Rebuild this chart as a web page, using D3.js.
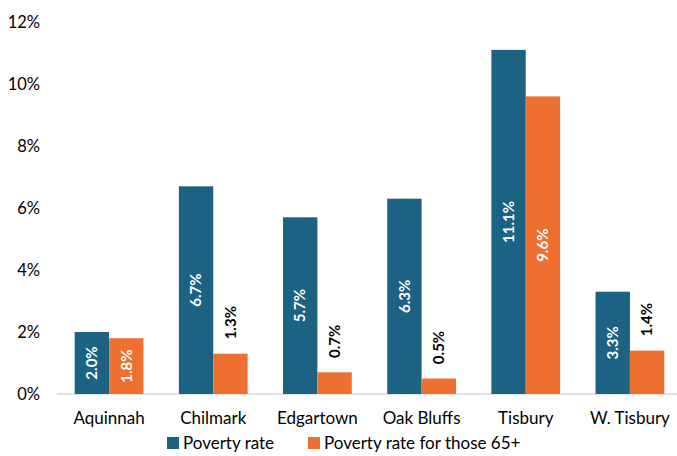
<!DOCTYPE html>
<html>
<head>
<meta charset="utf-8">
<script src="https://cdn.jsdelivr.net/npm/d3@7"></script>
<style>
  body { margin: 0; background: #fff; }
  svg { display: block; font-family: Lato, "Open Sans", sans-serif; }
</style>
</head>
<body>
<svg id="chart" width="677" height="456"></svg>
<script>
var towns = ["Aquinnah", "Chilmark", "Edgartown", "Oak Bluffs", "Tisbury", "W. Tisbury"];
var povertyRate = [2.0, 6.7, 5.7, 6.3, 11.1, 3.3];
var povertyRate65 = [1.8, 1.3, 0.7, 0.5, 9.6, 1.4];
var seriesNames = ["Poverty rate", "Poverty rate for those 65+"];
var yTicks = [0, 2, 4, 6, 8, 10, 12];

var colors = ["#1b6283", "#ed7031"];

var svg = d3.select("#chart");

var xScale = d3.scaleBand()
  .domain(towns)
  .range([57, 682])
  .paddingInner(0.34)
  .paddingOuter(0.17);

var xSub = d3.scaleBand()
  .domain([0, 1])
  .range([0, xScale.bandwidth()]);

var yScale = d3.scaleLinear()
  .domain([0, 12])
  .range([394, 22]);

// y axis labels only, no line
var yAxis = svg.append("g")
  .attr("transform", "translate(40,0)")
  .call(d3.axisLeft(yScale).tickValues(yTicks).tickSize(0).tickPadding(0)
    .tickFormat(function(d) { return d + "%"; }));
yAxis.select(".domain").remove();
yAxis.selectAll("text")
  .attr("font-family", "Lato, sans-serif")
  .attr("font-size", 16.5)
  .attr("fill", "#000");

// baseline
svg.append("line")
  .attr("x1", 57).attr("x2", 677)
  .attr("y1", yScale(0)).attr("y2", yScale(0))
  .attr("stroke", "#d9d9d9")
  .attr("stroke-width", 1.5);

var rows = towns.map(function(t, i) {
  return { town: t, vals: [povertyRate[i], povertyRate65[i]] };
});

var groups = svg.selectAll("g.town")
  .data(rows)
  .enter()
  .append("g")
  .attr("class", "town")
  .attr("transform", function(d) { return "translate(" + xScale(d.town) + ",0)"; });

groups.selectAll("rect")
  .data(function(d) { return d.vals; })
  .enter()
  .append("rect")
  .attr("x", function(d, i) { return xSub(i); })
  .attr("width", xSub.bandwidth())
  .attr("y", function(d) { return yScale(d); })
  .attr("height", function(d) { return yScale(0) - yScale(d); })
  .attr("fill", function(d, i) { return colors[i]; });

// value labels, rotated; inside the bar if it fits, otherwise above
groups.selectAll("text.val")
  .data(function(d) { return d.vals; })
  .enter()
  .append("text")
  .attr("class", "val")
  .attr("transform", function(d, i) {
    var cx = xSub(i) + xSub.bandwidth() / 2;
    var h = yScale(0) - yScale(d);
    var cy = h > 44 ? (yScale(d) + yScale(0)) / 2 : yScale(d) - 31;
    return "translate(" + cx + "," + cy + ") rotate(-90)";
  })
  .attr("text-anchor", "middle")
  .attr("dy", "0.35em")
  .attr("font-size", 15)
  .attr("font-weight", "bold")
  .attr("fill", function(d) { return (yScale(0) - yScale(d)) > 44 ? "#fff" : "#000"; })
  .text(function(d) { return d.toFixed(1) + "%"; });

// x axis labels
var xAxis = svg.append("g")
  .attr("transform", "translate(0," + yScale(0) + ")")
  .call(d3.axisBottom(xScale).tickSize(0).tickPadding(18));
xAxis.select(".domain").remove();
xAxis.selectAll("text")
  .attr("font-family", "Lato, sans-serif")
  .attr("font-size", 17)
  .attr("fill", "#000");

// legend
var legendX = [167, 308];
var legend = svg.selectAll("g.legend")
  .data(seriesNames)
  .enter()
  .append("g")
  .attr("class", "legend")
  .attr("transform", function(d, i) { return "translate(" + legendX[i] + ",437)"; });
legend.append("rect")
  .attr("width", 12).attr("height", 12)
  .attr("fill", function(d, i) { return colors[i]; });
legend.append("text")
  .attr("x", 16).attr("y", 6)
  .attr("dy", "0.35em")
  .attr("font-size", 17)
  .attr("fill", "#000")
  .text(function(d) { return d; });
</script>
</body>
</html>
